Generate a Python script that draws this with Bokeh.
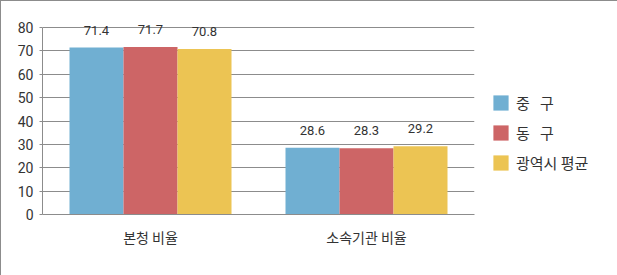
from bokeh.plotting import figure
from bokeh.models import ColumnDataSource, FactorRange, Legend, LegendItem, FixedTicker, LabelSet
from bokeh.transform import dodge
from bokeh.core.properties import value
from bokeh.embed import file_html
from bokeh.resources import INLINE

categories = ["본청 비율", "소속기관 비율"]
series_names = ["중\u00a0\u00a0\u00a0구", "동\u00a0\u00a0\u00a0구", "광역시 평균"]
jung = [71.4, 28.6]
dong = [71.7, 28.3]
avg = [70.8, 29.2]
colors = ["#70AFD2", "#CD6566", "#ECC453"]
y_ticks = [0, 10, 20, 30, 40, 50, 60, 70, 80]
y_max = 80

src = ColumnDataSource(dict(
    cat=categories, jung=jung, dong=dong, avg=avg,
    jung_t=[f"{v:.1f}" for v in jung],
    dong_t=[f"{v:.1f}" for v in dong],
    avg_t=[f"{v:.1f}" for v in avg],
))

axis_px = 187      # pixel height of 0..80
extra_px = 20      # room above the top gridline for value labels
frame_h = axis_px + extra_px

p = figure(x_range=FactorRange(*categories), y_range=(0, y_max * frame_h / axis_px),
           frame_width=432, frame_height=frame_h, output_backend="svg", toolbar_location=None,
           min_border_left=41, min_border_right=144, min_border_top=26 - extra_px,
           min_border_bottom=62)
p.x_range.range_padding = 0
p.outline_line_color = None
p.styles = {"border": "1px solid #8c8c8c", "box-sizing": "border-box"}

fk = "Noto Sans CJK KR"
fn = "Roboto"

renderers = []
for key, off, col in [("jung", -0.25, colors[0]), ("dong", 0.0, colors[1]), ("avg", 0.25, colors[2])]:
    r = p.vbar(x=dodge("cat", off, range=p.x_range), top=key, width=0.25, source=src,
               fill_color=col, line_color=None)
    renderers.append(r)
    lbl = LabelSet(x=dodge("cat", off, range=p.x_range), y=key, text=key + "_t", source=src,
                   text_align="center", text_baseline="bottom", y_offset=13,
                   text_font=value(fn), text_font_size="13px", text_color="#333333")
    p.add_layout(lbl)

p.yaxis.ticker = FixedTicker(ticks=y_ticks)
p.yaxis.bounds = (0, y_max)
p.ygrid.ticker = FixedTicker(ticks=y_ticks)
p.ygrid.grid_line_color = "#8c8c8c"
p.xgrid.grid_line_color = None
for ax in (p.xaxis, p.yaxis):
    ax.axis_line_color = "#8c8c8c"
    ax.major_tick_line_color = "#8c8c8c"
    ax.minor_tick_line_color = None
    ax.major_label_text_color = "#333333"
p.yaxis.major_tick_out = 3
p.yaxis.major_tick_in = 0
p.yaxis.major_label_standoff = 6
p.yaxis.major_label_text_font = fn
p.yaxis.major_label_text_font_size = "14px"
p.xaxis.major_tick_line_color = None
p.xaxis.major_label_standoff = 6
p.xaxis.major_label_text_font = fk
p.xaxis.major_label_text_font_size = "14px"

legend = Legend(items=[LegendItem(label=n, renderers=[r]) for n, r in zip(series_names, renderers)],
                location=(17, 41), padding=0, margin=0, spacing=9,
                glyph_width=19, glyph_height=19, label_standoff=6,
                border_line_color=None, background_fill_alpha=0,
                label_text_font=fk, label_text_font_size="15px", label_text_color="#333333")
p.add_layout(legend, "right")

open("out.html", "w").write(file_html(p, INLINE))
